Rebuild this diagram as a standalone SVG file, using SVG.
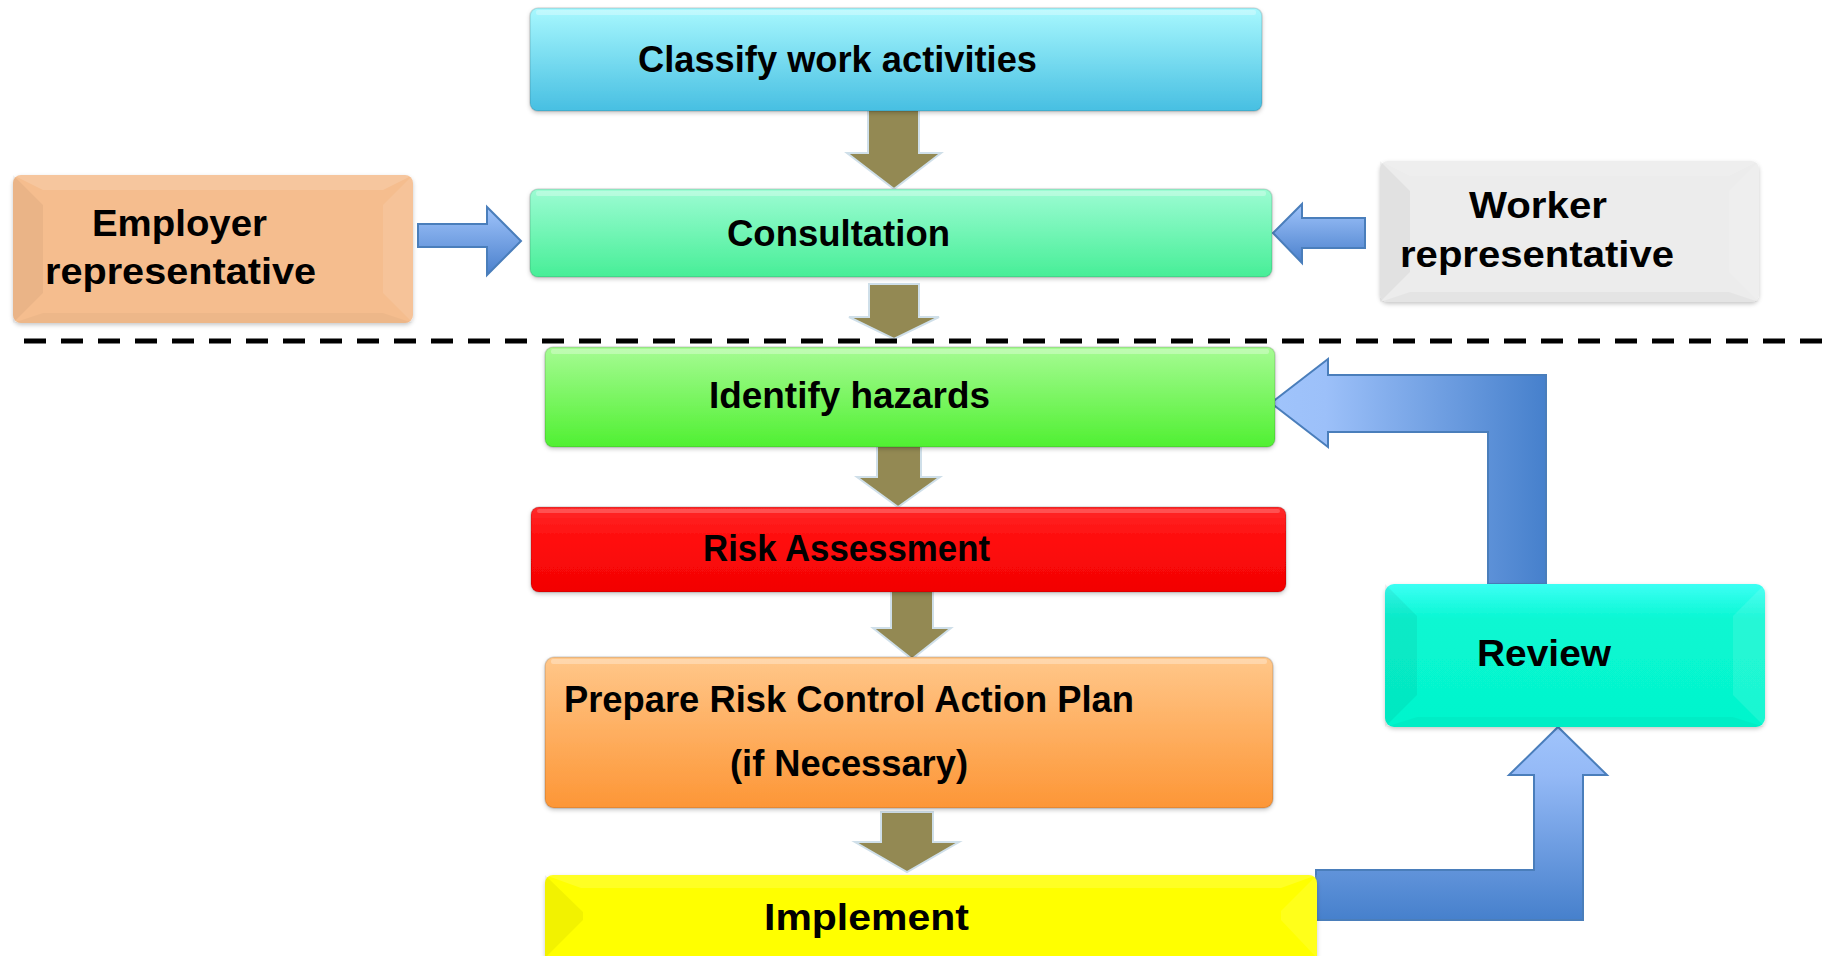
<svg xmlns="http://www.w3.org/2000/svg" width="1835" height="956" viewBox="0 0 1835 956">
<defs>
<style>
.t{font-family:"Liberation Sans",Arial,sans-serif;font-weight:bold;font-size:37px;fill:#000}
.olive{fill:#938953;stroke:#cfdfe9;stroke-width:2}
.blue{stroke:#4a7ebb;stroke-width:2}
.box{stroke:#000;stroke-opacity:0.12;stroke-width:1.5}
.bvT{fill:#fff;fill-opacity:0.14}
.bvL{fill:#000;fill-opacity:0.045}
.bvR{fill:#fff;fill-opacity:0.1}
.bvB{fill:#000;fill-opacity:0.03}
</style>
<filter id="sh" x="-5%" y="-10%" width="110%" height="130%">
<feDropShadow dx="0" dy="2" stdDeviation="2" flood-color="#000" flood-opacity="0.22"/>
</filter>
<linearGradient id="gClassify" x1="0" y1="0" x2="0" y2="1"><stop offset="0" stop-color="#a8f8fe"/><stop offset="1" stop-color="#47bfe2"/></linearGradient>
<linearGradient id="gConsult" x1="0" y1="0" x2="0" y2="1"><stop offset="0" stop-color="#9cfcd3"/><stop offset="1" stop-color="#47ee97"/></linearGradient>
<linearGradient id="gIdentify" x1="0" y1="0" x2="0" y2="1"><stop offset="0" stop-color="#a6fb93"/><stop offset="1" stop-color="#50f032"/></linearGradient>
<linearGradient id="gRisk" x1="0" y1="0" x2="0" y2="1"><stop offset="0" stop-color="#ff2a2a"/><stop offset="0.4" stop-color="#ff0a0a"/><stop offset="1" stop-color="#f20404"/></linearGradient>
<linearGradient id="gPrepare" x1="0" y1="0" x2="0" y2="1"><stop offset="0" stop-color="#ffc78a"/><stop offset="1" stop-color="#fd9636"/></linearGradient>
<linearGradient id="gReview" x1="0" y1="0" x2="0" y2="1"><stop offset="0" stop-color="#3cfff4"/><stop offset="0.25" stop-color="#08f7d2"/><stop offset="1" stop-color="#05f5cc"/></linearGradient>
<linearGradient id="gBlueV" x1="0" y1="0" x2="0" y2="1"><stop offset="0" stop-color="#a0c4fb"/><stop offset="1" stop-color="#4a80cc"/></linearGradient>
<linearGradient id="gBlueUp" x1="0" y1="727" x2="0" y2="920" gradientUnits="userSpaceOnUse"><stop offset="0" stop-color="#a0c4fb"/><stop offset="0.25" stop-color="#94b9f6"/><stop offset="1" stop-color="#4680cc"/></linearGradient>
<linearGradient id="gBlueH" x1="1271" y1="0" x2="1546" y2="0" gradientUnits="userSpaceOnUse"><stop offset="0" stop-color="#a0c4fb"/><stop offset="0.2" stop-color="#9cc0f9"/><stop offset="1" stop-color="#4680cc"/></linearGradient>
</defs>
<rect width="1835" height="956" fill="#fff"/>

<g id="connectors">
<polygon class="olive" points="868,108 919,108 919,153 941,153 894,189 847,153 868,153"/>
<polygon class="olive" points="869,284 919,284 919,317 939,317 894,339 849,317 869,317"/>
<polygon class="olive" points="877,438 921,438 921,477 940,477 898,507 857,477 877,477"/>
<polygon class="olive" points="891,589 933,589 933,628 951,628 912,659 873,628 891,628"/>
<polygon class="olive" points="881,812 933,812 933,842 959,842 907,872 855,842 881,842"/>
<polygon class="blue" fill="url(#gBlueV)" points="418,224 487,224 487,207 521,241 487,275 487,247 418,247"/>
<polygon class="blue" fill="url(#gBlueV)" points="1365,218 1302,218 1302,204 1273,233 1302,263 1302,248 1365,248"/>
<polygon class="blue" fill="url(#gBlueH)" points="1488,584 1488,432 1328,432 1328,447 1271,403 1328,359 1328,375 1546,375 1546,584"/>
<polygon class="blue" fill="url(#gBlueUp)" points="1316,870 1534,870 1534,775 1509,775 1558,727 1607,775 1583,775 1583,920 1316,920"/>
<line x1="24" y1="341" x2="1835" y2="341" stroke="#000" stroke-width="5" stroke-dasharray="22 15"/>
</g>

<g id="classify">
<rect class="box" x="530" y="8" width="732" height="103" rx="8" fill="url(#gClassify)" filter="url(#sh)"/>
<rect x="536" y="10" width="720" height="5" rx="2" fill="#fff" fill-opacity="0.3"/>
<text class="t" x="638" y="72" textLength="399" lengthAdjust="spacingAndGlyphs">Classify work activities</text>
</g>

<g id="employer">
<rect x="13" y="175" width="400" height="148" rx="8" fill="#f5bd8e" filter="url(#sh)"/>
<polygon class="bvT" points="13,175 413,175 383,190 43,190"/>
<polygon class="bvL" points="13,175 43,205 43,293 13,323"/>
<polygon class="bvR" points="413,175 383,205 383,293 413,323"/>
<polygon class="bvB" points="13,323 413,323 383,313 43,313"/>
<text class="t" x="92" y="236" font-size="38" textLength="175" lengthAdjust="spacingAndGlyphs">Employer</text>
<text class="t" x="45" y="284" font-size="38" textLength="271" lengthAdjust="spacingAndGlyphs">representative</text>
</g>

<g id="consultation">
<rect class="box" x="530" y="189" width="742" height="88" rx="8" fill="url(#gConsult)" filter="url(#sh)"/>
<rect x="536" y="191" width="730" height="5" rx="2" fill="#fff" fill-opacity="0.3"/>
<text class="t" x="727" y="246" textLength="223" lengthAdjust="spacingAndGlyphs">Consultation</text>
</g>

<g id="worker">
<rect x="1380" y="161" width="379" height="141" rx="8" fill="#ececec" filter="url(#sh)"/>
<polygon class="bvT" points="1380,161 1759,161 1729,176 1410,176"/>
<polygon class="bvL" points="1380,161 1410,191 1410,272 1380,302"/>
<polygon class="bvR" points="1759,161 1729,191 1729,272 1759,302"/>
<polygon class="bvB" points="1380,302 1759,302 1729,292 1410,292"/>
<text class="t" x="1469" y="218" font-size="38" textLength="138" lengthAdjust="spacingAndGlyphs">Worker</text>
<text class="t" x="1400" y="267" font-size="38" textLength="274" lengthAdjust="spacingAndGlyphs">representative</text>
</g>

<g id="identify">
<rect class="box" x="545" y="347" width="730" height="100" rx="8" fill="url(#gIdentify)" filter="url(#sh)"/>
<rect x="551" y="349" width="718" height="5" rx="2" fill="#fff" fill-opacity="0.3"/>
<text class="t" x="709" y="408" textLength="281" lengthAdjust="spacingAndGlyphs">Identify hazards</text>
</g>

<g id="risk">
<rect class="box" x="531" y="507" width="755" height="85" rx="8" fill="url(#gRisk)" filter="url(#sh)"/>
<rect x="537" y="509" width="743" height="4" rx="2" fill="#fff" fill-opacity="0.2"/>
<text class="t" x="703" y="561" textLength="287" lengthAdjust="spacingAndGlyphs">Risk Assessment</text>
</g>

<g id="prepare">
<rect class="box" x="545" y="657" width="728" height="151" rx="9" fill="url(#gPrepare)" filter="url(#sh)"/>
<rect x="551" y="659" width="716" height="5" rx="2" fill="#fff" fill-opacity="0.3"/>
<text class="t" x="564" y="712" textLength="570" lengthAdjust="spacingAndGlyphs">Prepare Risk Control Action Plan</text>
<text class="t" x="730" y="776" textLength="238" lengthAdjust="spacingAndGlyphs">(if Necessary)</text>
</g>

<g id="implement">
<rect x="545" y="875" width="772" height="95" rx="8" fill="#ffff00" filter="url(#sh)"/>
<polygon class="bvT" points="545,875 1317,875 1281,888 581,888"/>
<polygon points="545,875 583,912 583,920 545,958" fill="#000" fill-opacity="0.05"/>
<polygon class="bvR" points="1317,875 1281,911 1281,920 1317,958"/>
<text class="t" x="764" y="930" textLength="205" lengthAdjust="spacingAndGlyphs">Implement</text>
</g>

<g id="review">
<rect x="1385" y="584" width="380" height="143" rx="9" fill="url(#gReview)" filter="url(#sh)"/>
<polygon points="1385,584 1417,616 1417,695 1385,727" fill="#000" fill-opacity="0.05"/>
<polygon class="bvR" points="1765,584 1733,616 1733,695 1765,727"/>
<polygon class="bvB" points="1385,727 1765,727 1733,717 1417,717"/>
<text class="t" x="1477" y="666" textLength="134" lengthAdjust="spacingAndGlyphs">Review</text>
</g>
</svg>
